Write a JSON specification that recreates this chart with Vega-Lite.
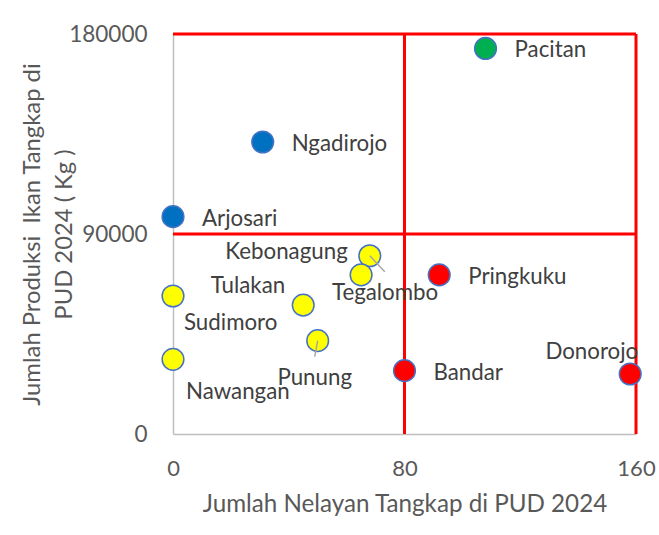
{
  "$schema": "https://vega.github.io/schema/vega-lite/v6.json",
  "width": 463,
  "height": 400,
  "autosize": {"type": "none"},
  "padding": {"left": 173, "top": 34, "right": 23, "bottom": 101},
  "background": "white",
  "config": {
    "view": {"stroke": null},
    "font": "Lato",
    "axis": {"labelFont": "Lato", "titleFont": "Lato", "titleFontWeight": "normal"}
  },
  "data": {
    "values": [
      {"nama": "Pacitan", "nelayan": 108, "produksi": 173500, "kuadran": "I"},
      {"nama": "Ngadirojo", "nelayan": 31, "produksi": 131400, "kuadran": "II"},
      {"nama": "Arjosari", "nelayan": 0, "produksi": 97800, "kuadran": "II"},
      {"nama": "Kebonagung", "nelayan": 68, "produksi": 80200, "kuadran": "III"},
      {"nama": "Tegalombo", "nelayan": 65, "produksi": 71600, "kuadran": "III"},
      {"nama": "Pringkuku", "nelayan": 92, "produksi": 71600, "kuadran": "IV"},
      {"nama": "Tulakan", "nelayan": 45, "produksi": 58000, "kuadran": "III"},
      {"nama": "Sudimoro", "nelayan": 0, "produksi": 62100, "kuadran": "III"},
      {"nama": "Punung", "nelayan": 50, "produksi": 42000, "kuadran": "III"},
      {"nama": "Nawangan", "nelayan": 0, "produksi": 33600, "kuadran": "III"},
      {"nama": "Bandar", "nelayan": 80, "produksi": 28500, "kuadran": "IV"},
      {"nama": "Donorojo", "nelayan": 158, "produksi": 27000, "kuadran": "IV"}
    ]
  },
  "encoding": {
    "x": {
      "field": "nelayan", "type": "quantitative",
      "scale": {"domain": [0, 160], "nice": false, "zero": false},
      "axis": {
        "values": [0, 80, 160], "grid": false, "ticks": false,
        "domainColor": "#BFBFBF", "domainWidth": 1.5,
        "labelFontSize": 22, "labelColor": "#595959", "labelPadding": 24, "labelFlush": false,
        "title": "Jumlah Nelayan Tangkap di PUD 2024",
        "titleFontSize": 24.2, "titleColor": "#595959", "titlePadding": 13
      }
    },
    "y": {
      "field": "produksi", "type": "quantitative",
      "scale": {"domain": [0, 180000], "nice": false, "zero": false},
      "axis": {
        "values": [0, 90000, 180000], "format": "d", "grid": false, "ticks": false,
        "domainColor": "#BFBFBF", "domainWidth": 1.5,
        "labelFontSize": 22.5, "labelColor": "#595959", "labelPadding": 26, "labelFlush": false,
        "title": ["Jumlah Produksi\u00a0 Ikan Tangkap di", "PUD 2024 ( Kg )"],
        "titleFontSize": 23.8, "titleColor": "#595959", "titleLineHeight": 32,
        "titleX": -129, "titleY": 200, "titleAlign": "center", "titleBaseline": "bottom"
      }
    }
  },
  "layer": [
    {
      "data": {"values": [{"batas": 80}, {"batas": 160}]},
      "mark": {"type": "rule", "color": "#FF0000", "strokeWidth": 3},
      "encoding": {"x": {"field": "batas", "type": "quantitative"}, "y": null}
    },
    {
      "data": {"values": [{"batas": 90000}, {"batas": 180000}]},
      "mark": {"type": "rule", "color": "#FF0000", "strokeWidth": 3},
      "encoding": {"y": {"field": "batas", "type": "quantitative"}, "x": null}
    },
    {
      "mark": {"type": "point", "shape": "circle", "filled": true, "size": 470, "stroke": "#4472C4", "strokeWidth": 1.5, "opacity": 1},
      "encoding": {
        "color": {
          "field": "kuadran", "type": "nominal", "legend": null,
          "scale": {"domain": ["I", "II", "III", "IV"], "range": ["#00B050", "#0070C0", "#FFFF00", "#FF0000"]}
        },
        "stroke": {"value": "#4472C4"}
      }
    },
    {
      "transform": [{"filter": "datum.nama === 'Kebonagung'"}],
      "mark": {"type": "rule", "color": "#A6A6A6", "strokeWidth": 1.5, "x2Offset": 15, "y2Offset": 16},
      "encoding": {"x2": {"field": "nelayan"}, "y2": {"field": "produksi"}}
    },
    {
      "transform": [{"filter": "datum.nama === 'Punung'"}],
      "mark": {"type": "rule", "color": "#A6A6A6", "strokeWidth": 1.5, "x2Offset": -3, "y2Offset": 16},
      "encoding": {"x2": {"field": "nelayan"}, "y2": {"field": "produksi"}}
    },
    {
      "transform": [{"filter": "indexof(['Pacitan','Ngadirojo','Arjosari','Pringkuku','Bandar'], datum.nama) >= 0"}],
      "mark": {"type": "text", "align": "left", "baseline": "middle", "dx": 29, "dy": 2, "fontSize": 22.3, "color": "#404040"},
      "encoding": {"text": {"field": "nama"}}
    },
    {
      "transform": [{"filter": "datum.nama === 'Kebonagung'"}],
      "mark": {"type": "text", "align": "right", "baseline": "middle", "dx": -22, "dy": -4, "fontSize": 22.3, "color": "#404040"},
      "encoding": {"text": {"field": "nama"}}
    },
    {
      "transform": [{"filter": "datum.nama === 'Tegalombo'"}],
      "mark": {"type": "text", "align": "center", "baseline": "middle", "dx": 24, "dy": 18, "fontSize": 22.3, "color": "#404040"},
      "encoding": {"text": {"field": "nama"}}
    },
    {
      "transform": [{"filter": "datum.nama === 'Tulakan'"}],
      "mark": {"type": "text", "align": "right", "baseline": "middle", "dx": -18, "dy": -19, "fontSize": 22.3, "color": "#404040"},
      "encoding": {"text": {"field": "nama"}}
    },
    {
      "transform": [{"filter": "datum.nama === 'Sudimoro'"}],
      "mark": {"type": "text", "align": "left", "baseline": "middle", "dx": 11, "dy": 27, "fontSize": 22.3, "color": "#404040"},
      "encoding": {"text": {"field": "nama"}}
    },
    {
      "transform": [{"filter": "datum.nama === 'Punung'"}],
      "mark": {"type": "text", "align": "center", "baseline": "middle", "dx": -3, "dy": 37, "fontSize": 22.3, "color": "#404040"},
      "encoding": {"text": {"field": "nama"}}
    },
    {
      "transform": [{"filter": "datum.nama === 'Nawangan'"}],
      "mark": {"type": "text", "align": "left", "baseline": "middle", "dx": 13, "dy": 33, "fontSize": 22.3, "color": "#404040"},
      "encoding": {"text": {"field": "nama"}}
    },
    {
      "transform": [{"filter": "datum.nama === 'Donorojo'"}],
      "mark": {"type": "text", "align": "right", "baseline": "middle", "dx": 8, "dy": -22, "fontSize": 22.3, "color": "#404040"},
      "encoding": {"text": {"field": "nama"}}
    }
  ]
}
